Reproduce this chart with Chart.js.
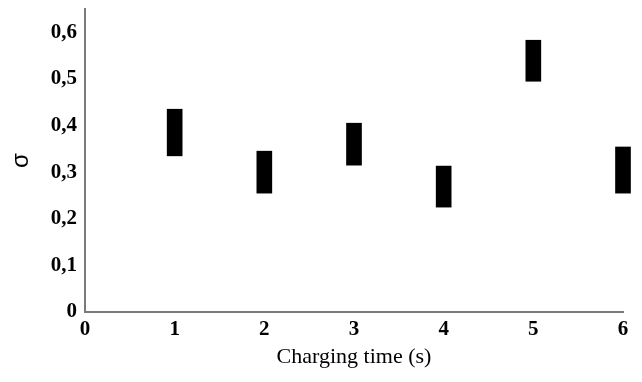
<!DOCTYPE html>
<html>
<head>
<meta charset="utf-8">
<style>
  html, body { margin: 0; padding: 0; background: #ffffff; }
  #wrap { width: 642px; height: 382px; }
</style>
<script src="https://cdn.jsdelivr.net/npm/chart.js@4/dist/chart.umd.min.js"></script>
</head>
<body>
<div id="wrap"><canvas id="c" width="642" height="382"></canvas></div>
<script>
const categories = ['0', '1', '2', '3', '4', '5', '6'];
const lowValues  = [null, 0.335, 0.255, 0.315, 0.225, 0.495, 0.255];
const highValues = [null, 0.435, 0.345, 0.405, 0.313, 0.583, 0.354];
const yTickValues = [0, 0.1, 0.2, 0.3, 0.4, 0.5, 0.6];
const xTitle = 'Charging time (s)';
const yTitle = 'σ';

const ranges = lowValues.map((lo, i) => (lo === null ? null : [lo, highValues[i]]));

new Chart(document.getElementById('c'), {
  type: 'bar',
  data: {
    labels: categories,
    datasets: [{
      data: ranges,
      backgroundColor: '#000000',
      borderWidth: 0,
      barThickness: 15,
      clip: false
    }]
  },
  options: {
    responsive: false,
    animation: false,
    devicePixelRatio: 1,
    layout: { padding: { top: 9, right: 19, bottom: 12, left: 7 } },
    plugins: { legend: { display: false }, tooltip: { enabled: false } },
    scales: {
      x: {
        offset: false,
        grid: { display: false, drawTicks: false },
        border: { display: true, color: '#7a7a7a', width: 2 },
        ticks: {
          color: '#000000',
          padding: 7,
          maxRotation: 0,
          font: { family: 'Liberation Serif', size: 21, weight: 'bold', lineHeight: 1.0 }
        },
        title: {
          display: true,
          text: xTitle,
          color: '#000000',
          font: { family: 'Liberation Serif', size: 22 },
          padding: 0
        },
        afterFit: (s) => { s.height = 58; s.paddingLeft = 0; s.paddingRight = 0; }
      },
      y: {
        min: 0,
        max: 0.65,
        grid: { display: false, drawTicks: false },
        border: { display: true, color: '#7a7a7a', width: 2 },
        afterBuildTicks: (s) => { s.ticks = yTickValues.map(v => ({ value: v })); },
        ticks: {
          color: '#000000',
          padding: 8,
          font: { family: 'Liberation Serif', size: 21, weight: 'bold', lineHeight: 1.0 },
          callback: (v) => (v === 0 ? '0' : Number(v).toFixed(1).replace('.', ','))
        },
        title: {
          display: true,
          text: yTitle,
          color: '#000000',
          font: { family: 'Liberation Sans', size: 24 },
          padding: 0
        },
        afterFit: (s) => { s.width = 78; s.paddingTop = 0; s.paddingBottom = 0; }
      }
    }
  }
});
</script>
</body>
</html>
